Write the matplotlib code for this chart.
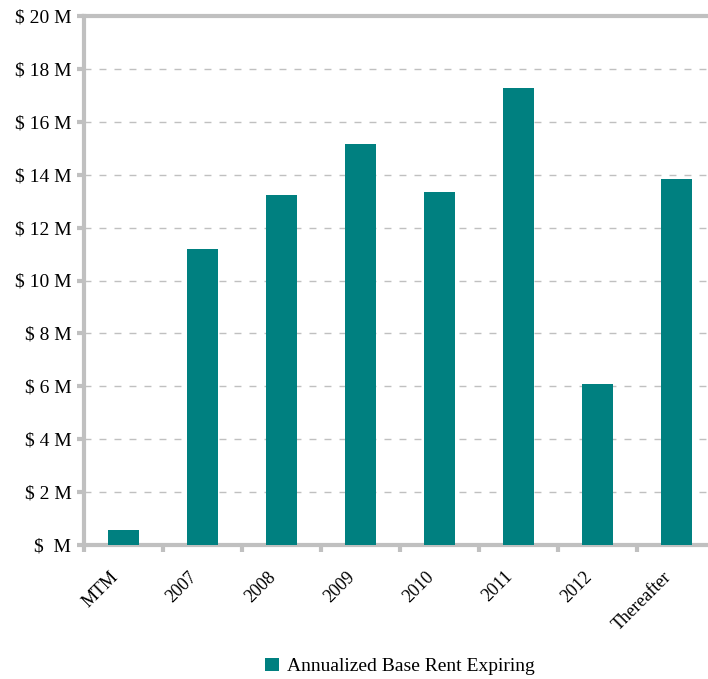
import matplotlib
matplotlib.use("Agg")
import matplotlib.pyplot as plt
import matplotlib.transforms as mtransforms
import numpy as np

categories = ["MTM", "2007", "2008", "2009", "2010", "2011", "2012", "Thereafter"]
rent_millions = [0.57, 11.2, 13.23, 15.17, 13.35, 17.28, 6.09, 13.85]
series_name = "Annualized Base Rent Expiring"
ytick_vals = list(range(0, 21, 2))
ytick_labels = ["$  M"] + [f"$ {v} M" for v in ytick_vals[1:]]

plt.rcParams["font.family"] = ["Liberation Serif", "DejaVu Serif"]

teal = "#008080"
frame = "#c0c0c0"

fig = plt.figure(figsize=(7.08, 6.79), dpi=100)
ax = fig.add_axes([84 / 708, 1 - 545 / 679, 632 / 708, 529 / 679])

x = np.arange(len(categories))
ax.bar(x, rent_millions, width=0.4, color=teal, label=series_name, zorder=3)

ax.set_xlim(-0.5, len(categories) - 0.5)
ax.set_ylim(0, 20)
ax.set_yticks(ytick_vals)
ax.set_yticklabels(ytick_labels, fontsize=14)
ax.yaxis.grid(True, linestyle=(0, (5, 5.8)), color=frame, linewidth=1.0, zorder=0)

# category labels at the centers, tick marks between categories
ax.set_xticks(x)
ax.set_xticklabels(categories, rotation=45, ha="right", va="center",
                   rotation_mode="anchor", fontsize=13)
ax.tick_params(axis="x", length=0, pad=21)
shift = mtransforms.ScaledTranslation(-8 / 100, 0, fig.dpi_scale_trans)
for lbl in ax.get_xticklabels():
    lbl.set_transform(lbl.get_transform() + shift)
ax.set_xticks(np.arange(len(categories) + 1) - 0.5, minor=True)
ax.tick_params(axis="x", which="minor", length=5, width=3, color=frame)
ax.tick_params(axis="y", length=5, width=3, color=frame, pad=4)

for side in ["left", "bottom", "top"]:
    ax.spines[side].set_color(frame)
    ax.spines[side].set_linewidth(3)
ax.spines["right"].set_visible(False)

ax.legend(loc="upper center", bbox_to_anchor=(0.5, -0.18), frameon=False,
          fontsize=14, handlelength=0.7, handleheight=0.7, handletextpad=0.4)

fig.savefig("out.png", dpi=100)
